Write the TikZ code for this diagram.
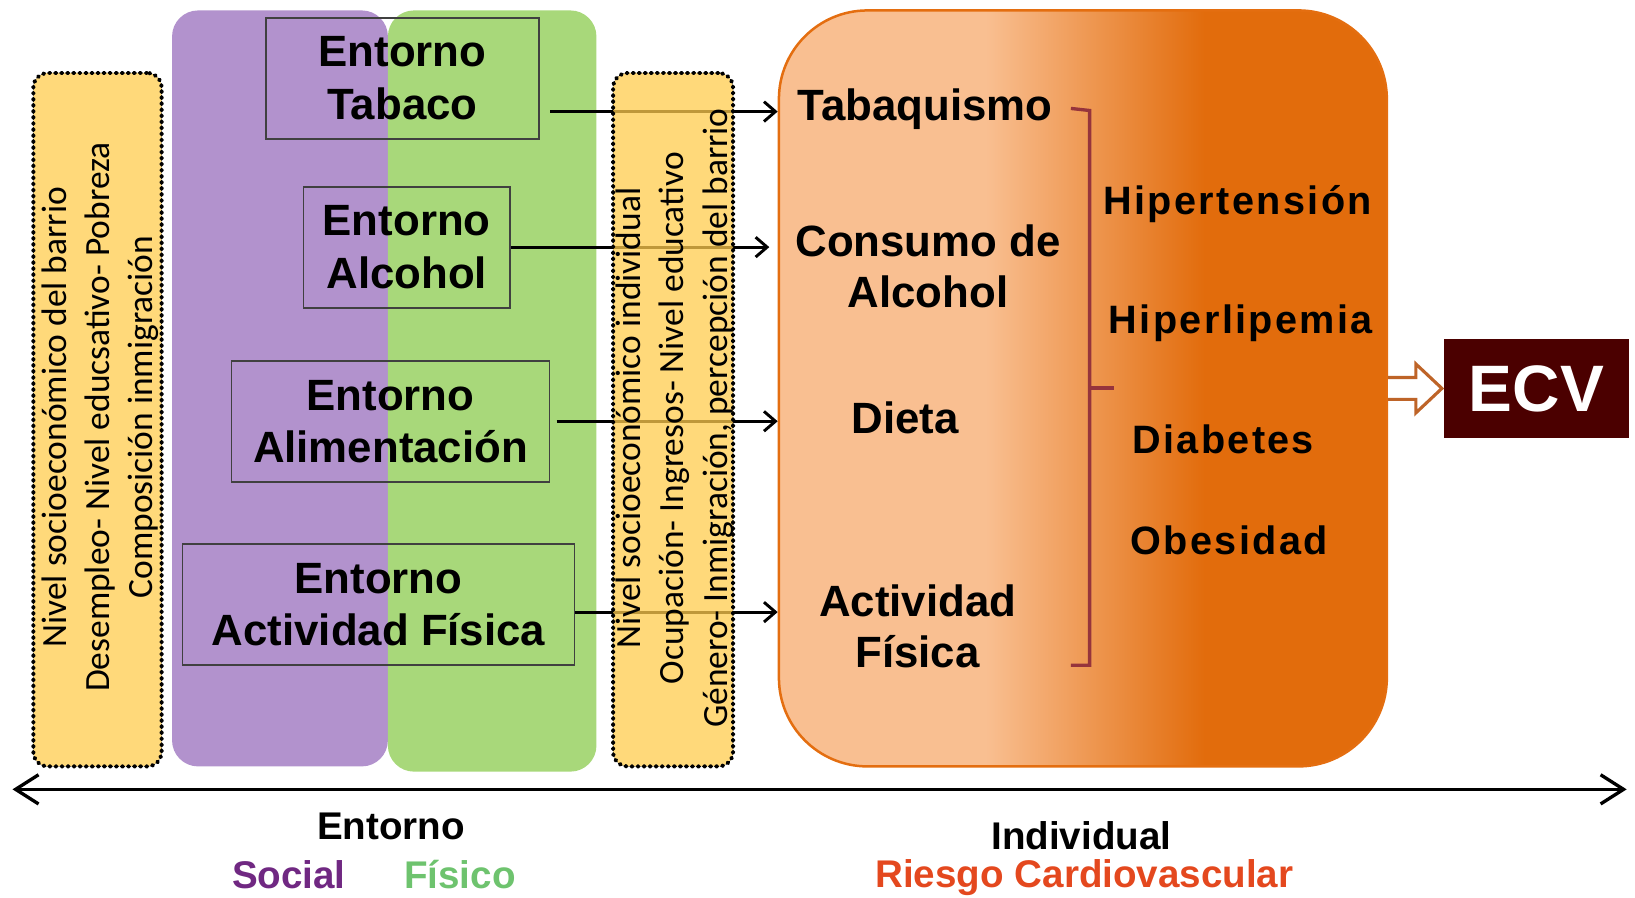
\documentclass[tikz,border=0pt]{standalone}
\usepackage{fontspec}
\setmainfont{Liberation Sans}
\newfontfamily\notefont{Carlito}
\newfontfamily\spacedfont[LetterSpace=6]{Liberation Sans}
\usepackage{tikz}
\usetikzlibrary{arrows.meta, positioning, calc}
\definecolor{notecolor}{RGB}{255,204,78}
\definecolor{socialcolor}{RGB}{178,146,205}
\definecolor{fisicocolor}{RGB}{168,216,122}
\definecolor{risklight}{RGB}{249,191,145}
\definecolor{riskdark}{RGB}{226,108,12}
\definecolor{riskedge}{RGB}{228,110,16}
\definecolor{bracecolor}{RGB}{150,52,60}
\definecolor{ecvcolor}{RGB}{75,0,0}
\definecolor{pushcolor}{RGB}{190,100,40}
\definecolor{socialtext}{RGB}{112,40,130}
\definecolor{fisicotext}{RGB}{110,195,110}
\definecolor{riesgotext}{RGB}{228,72,30}
\pgfdeclarehorizontalshading{riskshading}{100bp}{color(0bp)=(risklight); color(42bp)=(risklight); color(60bp)=(riskdark); color(100bp)=(riskdark)}

\begin{document}
\begin{tikzpicture}[
    x=1pt, y=-1pt,
    panel/.style={rounded corners=25pt, inner sep=0pt},
    note/.style={draw=black, line width=3.8pt, dash pattern=on 1.2pt off 4.6pt, line cap=round, fill=notecolor, fill opacity=.75, rounded corners=14pt, inner sep=0pt},
    notetext/.style={rotate=90, align=center, font=\notefont\fontsize{34}{41.5}\selectfont},
    envbox/.style={draw=black!75, line width=1.8pt, inner sep=0pt, align=center, font=\bfseries\fontsize{42}{50}\selectfont},
    factor/.style={align=center, font=\bfseries\fontsize{42}{49}\selectfont},
    cond/.style={font=\spacedfont\bfseries\fontsize{38}{44}\selectfont},
    legend/.style={font=\bfseries\fontsize{37}{44}\selectfont},
    arrow/.style={-{Straight Barb[length=11pt, width=19pt]}, line width=2.8pt},
    axis/.style={{Straight Barb[length=22pt, width=28pt]}-{Straight Barb[length=22pt, width=28pt]}, line width=3.2pt},
    push/.style={draw=pushcolor, line width=3pt, fill=white, line join=miter}
]
    \useasboundingbox (0,0) rectangle (1568,861);

    % Entorno panels
    \node[panel, fill=socialcolor, minimum width=207, minimum height=725] (social) at (268.5,372.5) {};
    \node[panel, fill=fisicocolor, minimum width=200, minimum height=730] (fisico) at (472,375) {};

    % Entorno boxes
    \node[envbox, minimum width=262, minimum height=116] (tabaco) at (386,75) {Entorno\\Tabaco};
    \node[envbox, minimum width=198, minimum height=116] (alcohol) at (390,237) {Entorno\\Alcohol};
    \node[envbox, minimum width=305, minimum height=116] (alim) at (374.5,404) {Entorno\\Alimentación};
    \node[envbox, minimum width=376, minimum height=116] (actividad) at (363,580) {Entorno\\Actividad Física};

    % Riesgo cardiovascular
    \node[draw=riskedge, line width=2.4pt, rounded corners=85pt, shading=riskshading, minimum width=583, minimum height=725, inner sep=0pt] (risk) at (1038.5,372.5) {};

    \node[factor] (tabaquismo) at (887,105) {Tabaquismo};
    \node[factor] (consumo) at (890,255) {Consumo de\\Alcohol};
    \node[factor] (dieta) at (868,401) {Dieta};
    \node[factor] (actividadf) at (880,601) {Actividad\\Física};

    \node[cond] (hiper) at (1187,196) {Hipertensión};
    \node[cond] (lipemia) at (1190,310) {Hiperlipemia};
    \node[cond] (diabetes) at (1173,421) {Diabetes};
    \node[cond] (obesidad) at (1179,518) {Obesidad};

    \draw[bracecolor, line width=3.2pt] (1027,104) -- (1045,106) -- (1045,638) -- (1027,638);
    \draw[bracecolor, line width=3.2pt] (1045,372) -- (1068,372);

    % Arrows to the factors
    \coordinate (t0) at ([xshift=10pt, yshift=-32pt]tabaco.east);
    \coordinate (a0) at (alcohol.east);
    \coordinate (m0) at ([xshift=6pt]alim.east);
    \coordinate (f0) at ([yshift=-7pt]actividad.east);
    \draw[arrow] (t0) -- (t0 -| risk.west);
    \draw[arrow, shorten >=8pt] (a0) -- (a0 -| risk.west);
    \draw[arrow] (m0) -- (m0 -| risk.west);
    \draw[arrow] (f0) -- (f0 -| risk.west);

    % Socioeconomic notes
    \node[note, minimum width=123, minimum height=665] (barrio) at (93.5,402.5) {};
    \node[note, minimum width=115, minimum height=665] (individuo) at (645.5,402.5) {};
    \node[notetext] at (96,400) {Nivel socioeconómico del barrio\\Desempleo- Nivel educsativo- Pobreza\\Composición inmigración};
    \node[notetext] at (647,401) {Nivel socioeconómico individual\\Ocupación- Ingresos- Nivel educativo\\Género- Inmigración, percepción del barrio};

    % ECV
    \node[fill=ecvcolor, minimum width=177, minimum height=95, inner sep=0pt, text=white, font=\bfseries\fontsize{63}{63}\selectfont] (ecv) at (1473.5,372.5) {ECV};
    \filldraw[push] ([yshift=10.5pt]risk.east) -- ([xshift=-27pt, yshift=10.5pt]ecv.west)
        -- ([xshift=-27pt, yshift=23.5pt]ecv.west) -- ([xshift=-2pt]ecv.west)
        -- ([xshift=-27pt, yshift=-23.5pt]ecv.west) -- ([xshift=-27pt, yshift=-10.5pt]ecv.west)
        -- ([yshift=-10.5pt]risk.east);

    % Axis and legend
    \coordinate (axl) at (12,757);
    \coordinate (axr) at (1560,757);
    \draw[axis] (axl) -- (axr);

    \node[legend] (entorno) at (375,793) {Entorno};
    \node[legend, text=socialtext] (sociallbl) at (277,839) {Social};
    \node[legend, text=fisicotext] (fisicolbl) at (441,839) {Físico};
    \node[legend] (individual) at (1037,801) {Individual};
    \node[legend, text=riesgotext] (riesgo) at (1040,842) {Riesgo Cardiovascular};
\end{tikzpicture}
\end{document}
